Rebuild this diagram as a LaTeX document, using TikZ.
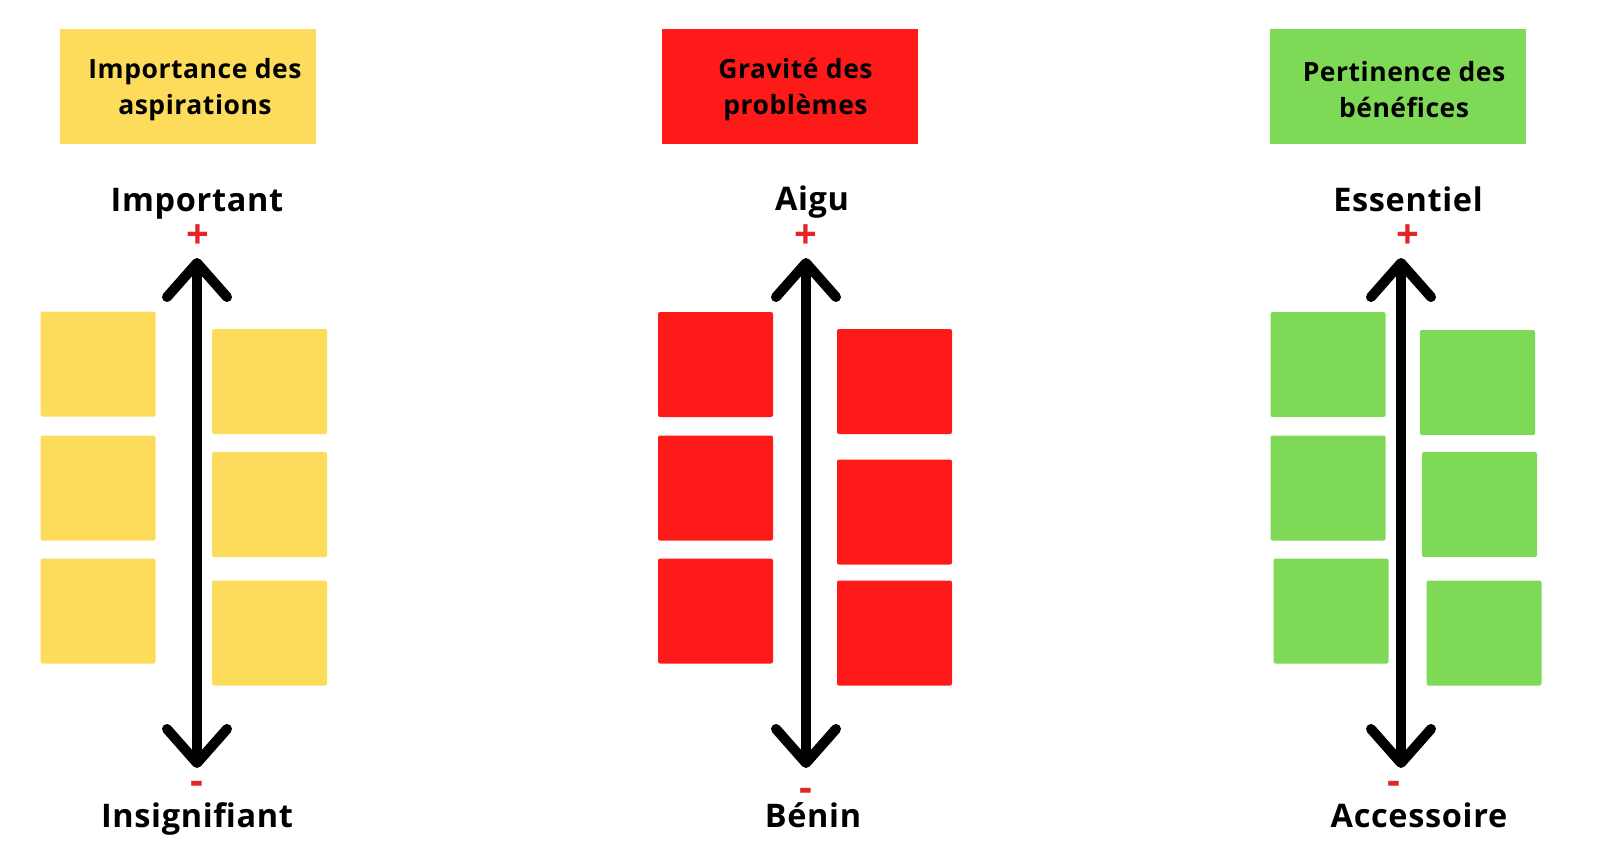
\documentclass[tikz,border=0pt]{standalone}
\usepackage{fontspec}
\setmainfont{Open Sans}
\newfontfamily\largefont[LetterSpace=2]{Open Sans}
\usetikzlibrary{positioning, arrows.meta}

\definecolor{jaune}{HTML}{FDDC5C}
\definecolor{rouge}{HTML}{FF1A1A}
\definecolor{vert}{HTML}{7ED957}
\definecolor{signe}{HTML}{E3262A}

\begin{document}
\begin{tikzpicture} [
    x=1pt, y=-1pt,
    titre/.style={rectangle, minimum width=256pt, minimum height=115pt, inner sep=0pt},
    entete/.style={inner sep=0pt, align=center, font=\largefont\fontsize{26.5}{35.5}\selectfont\bfseries},
    pole/.style={anchor=base, inner sep=0pt, font=\largefont\fontsize{32.5}{33}\selectfont\bfseries},
    signe/.style={inner sep=0pt, text=signe, font=\fontsize{40}{40}\selectfont\bfseries},
    note/.style={rectangle, rounded corners=2pt, minimum width=115pt, minimum height=105pt, inner sep=0pt},
    axe/.style={{Straight Barb[length=34pt, width=60pt, round]}-{Straight Barb[length=34pt, width=60pt, round]}, line width=10pt}
]
\useasboundingbox (0,0) rectangle (1600,852);

% Importance des aspirations
\node[titre, fill=jaune] (titreA) at (188,86.5) {};
\node[entete] (texteA) at ([xshift=7pt, yshift=-3pt]titreA.center) {Importance des\\aspirations};
\node[pole] (hautA) at (197,211) {Important};
\node[signe] (plusA) at (198,237) {+};
\node[note, fill=jaune] (a1) at (98,364) {};
\node[note, fill=jaune] (a2) at (98,488) {};
\node[note, fill=jaune] (a3) at (98,611) {};
\node[note, fill=jaune] (a4) at (269.5,381.5) {};
\node[note, fill=jaune] (a5) at (269.5,504.5) {};
\node[note, fill=jaune] (a6) at (269.5,633) {};
\node[signe] (moinsA) at (197,788) {-};
\node[pole] (basA) at (197,827) {Insignifiant};
\coordinate (debA) at (197,258);
\coordinate (finA) at (197,768);
\draw[axe] (debA) -- (finA);

% Gravite des problemes
\node[titre, fill=rouge] (titreB) at (789.5,86.5) {};
\node[entete] (texteB) at ([xshift=6pt, yshift=-3pt]titreB.center) {Gravité des\\problèmes};
\node[pole] (hautB) at (812,210) {Aigu};
\node[signe] (plusB) at (806,237) {+};
\node[note, fill=rouge] (b1) at (715.5,364.5) {};
\node[note, fill=rouge] (b2) at (715.5,488) {};
\node[note, fill=rouge] (b3) at (715.5,611) {};
\node[note, fill=rouge] (b4) at (894.5,381.5) {};
\node[note, fill=rouge] (b5) at (894.5,512) {};
\node[note, fill=rouge] (b6) at (894.5,633) {};
\node[signe] (moinsB) at (806,795) {-};
\node[pole] (basB) at (813,827) {Bénin};
\coordinate (debB) at (806,258);
\coordinate (finB) at (806,768);
\draw[axe] (debB) -- (finB);

% Pertinence des benefices
\node[titre, fill=vert] (titreC) at (1398,86.5) {};
\node[entete] (texteC) at ([xshift=6pt, yshift=-3pt]titreC.center) {Pertinence des\\bénéfices};
\node[pole] (hautC) at (1408,211) {Essentiel};
\node[signe] (plusC) at (1408,237) {+};
\node[note, fill=vert] (c1) at (1328,364.5) {};
\node[note, fill=vert] (c2) at (1328,488) {};
\node[note, fill=vert] (c3) at (1331,611) {};
\node[note, fill=vert] (c4) at (1477.5,382.5) {};
\node[note, fill=vert] (c5) at (1479.5,504.5) {};
\node[note, fill=vert] (c6) at (1484,633) {};
\node[signe] (moinsC) at (1394,788) {-};
\node[pole] (basC) at (1419,827) {Accessoire};
\coordinate (debC) at (1401,258);
\coordinate (finC) at (1401,768);
\draw[axe] (debC) -- (finC);

\end{tikzpicture}
\end{document}
